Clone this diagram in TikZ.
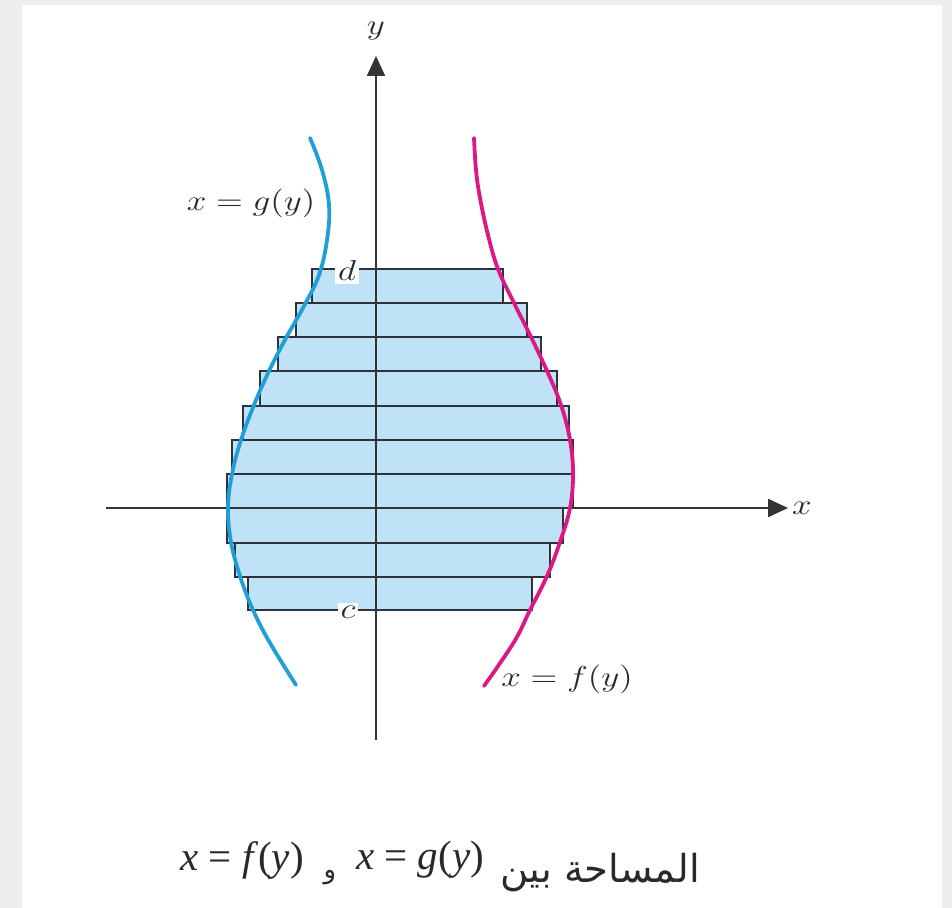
\documentclass[tikz,border=0pt]{standalone}
\usepackage{fontspec}
\usetikzlibrary{arrows.meta}
\TeXXeTstate=1
\newfontfamily\arabicfont[Script=Arabic]{DejaVu Sans}
\newfontfamily\capfont{Liberation Serif}
\definecolor{stripfill}{RGB}{192,226,246}
\definecolor{stripline}{RGB}{45,50,60}
\definecolor{axiscol}{RGB}{50,50,55}
\definecolor{gblue}{RGB}{32,158,216}
\definecolor{fmag}{RGB}{220,24,132}
\definecolor{framecol}{RGB}{238,238,241}
\definecolor{txt}{RGB}{40,40,45}
\tikzset{
  strip/.style={fill=stripfill,draw=stripline,line width=1.2pt},
  axisline/.style={draw=axiscol,line width=1pt,-{Triangle[length=10pt,width=9pt]}},
  curve/.style={line width=1.9pt,line cap=round},
  lab/.style={inner sep=1pt,text=txt,font=\fontsize{15.5}{18}\selectfont},
  cutlab/.style={lab,fill=white,inner sep=1.5pt},
  captext/.style={inner sep=0pt,text=txt,font=\fontsize{20.5}{24}\selectfont},
  arcap/.style={inner sep=0pt,text=txt,font=\arabicfont\fontsize{19.3}{23}\selectfont}
}
\newcommand{\wide}[1]{\scalebox{1.22}[1]{#1}}
\begin{document}
\begin{tikzpicture}[x=0.5pt,y=-0.5pt]
\useasboundingbox (0,0) rectangle (952,908);
\fill[framecol] (0,0) rectangle (952,908);
\fill[white] (22,5) rectangle (942,908);
% strips
\foreach \t/\b/\l/\r in {269/303/312/503,303/337/296/527,337/371/278/541,371/406/260/557,406/440/243/569,440/474/232/573,474/508/227/573,508/543/227/563,543/577/235/550,577/610/248/532}
  {\filldraw[strip] (\l,\t) rectangle (\r,\b);}
% axes
\coordinate (yb) at (376,740);
\coordinate (yt) at (376,56);
\coordinate (xl) at (106,508);
\coordinate (xr) at (788,508);
\draw[axisline] (yb) -- (yt);
\draw[axisline] (xl) -- (xr);
\node[lab] (ylab) at (376,31) {\wide{$y$}};
\node[lab] (xlab) at (802,508) {\wide{$x$}};
% curves
\draw[curve,gblue] plot[smooth,tension=0.65] coordinates {(310,138) (322,170) (329,205) (327,240) (319,275) (304,306) (286,338) (269,371) (254,405) (241,440) (232,474) (228,508) (231,542) (240,576) (253,610) (270,643) (296,685)};
\draw[curve,fmag] plot[smooth,tension=0.65] coordinates {(474,138) (476,170) (480,198) (488,235) (498,269) (514,303) (531,337) (547,371) (561,405) (570,440) (573,474) (570,508) (560,542) (547,576) (530,610) (514,642) (484,686)};
% labels
\node[cutlab] (dlab) at (347,271) {\wide{$d$}};
\node[cutlab] (clab) at (348,612) {\wide{$c$}};
\node[lab] (glab) at (251,203) {\wide{$x=g(y)$}};
\node[lab] (flab) at (567,679) {\wide{$x=f(y)$}};
% caption
\node[arcap] (capar) at (600,873) {\beginR المساحة بين\endR};
\node[captext] (capg) at (420,860) {\capfont\textit{x} = \textit{g}(\textit{y})};
\node[arcap,font=\arabicfont\fontsize{13}{15}\selectfont] (capw) at (330,878) {\beginR و\endR};
\node[captext] (capf) at (242,860) {\capfont\textit{x} = \textit{f}(\textit{y})};
\end{tikzpicture}
\end{document}
